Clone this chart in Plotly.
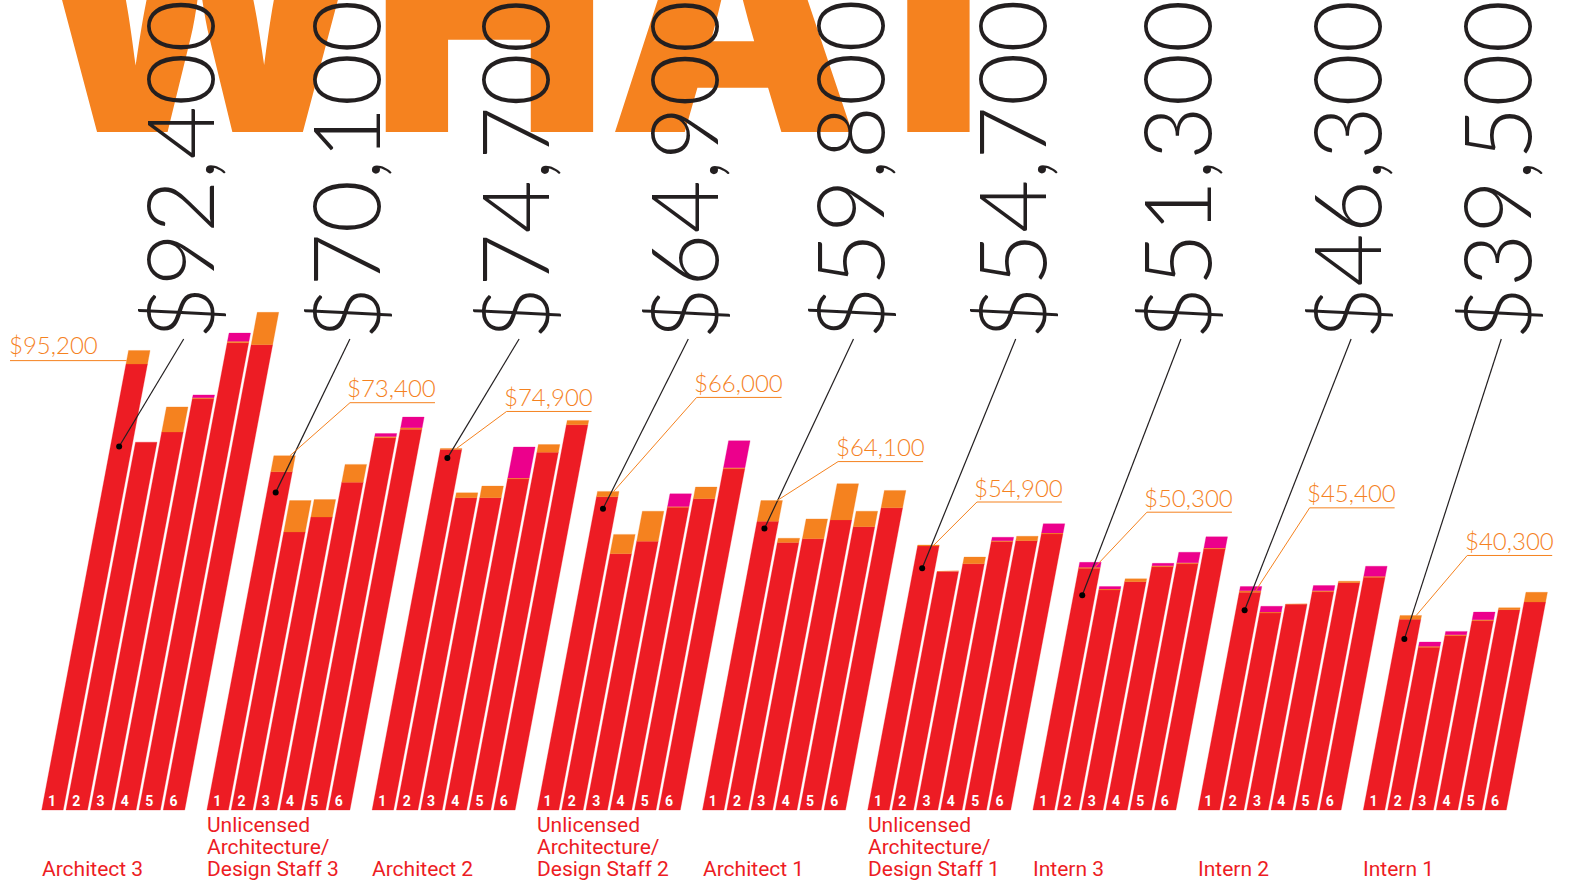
import plotly.graph_objects as go

# ---- data (salaries in $ thousands) ----
label_lines = [
    ["Architect 3"],
    ["Unlicensed", "Architecture/", "Design Staff 3"],
    ["Architect 2"],
    ["Unlicensed", "Architecture/", "Design Staff 2"],
    ["Architect 1"],
    ["Unlicensed", "Architecture/", "Design Staff 1"],
    ["Intern 3"],
    ["Intern 2"],
    ["Intern 1"],
]
regions = ["1", "2", "3", "4", "5", "6"]
national_avg = ["$92,400", "$70,100", "$74,700", "$64,900", "$59,800",
                "$54,700", "$51,300", "$46,300", "$39,500"]
region1_total = ["$95,200", "$73,400", "$74,900", "$66,000", "$64,100",
                 "$54,900", "$50,300", "$45,400", "$40,300"]
region1_total_k = [95.2, 73.4, 74.9, 66.0, 64.1, 54.9, 50.3, 45.4, 40.3]

base_salary = [
    [92.4, 76.2, 78.3, 85.2, 96.8, 96.4],
    [70.1, 57.6, 60.7, 67.9, 77.1, 78.9],
    [74.7, 64.7, 64.7, 68.6, 74.1, 79.8],
    [64.9, 53.1, 55.7, 62.7, 64.5, 70.7],
    [59.8, 55.4, 56.2, 60.1, 58.7, 62.6],
    [54.7, 49.4, 51.0, 55.6, 55.8, 57.2],
    [50.1, 45.6, 47.3, 50.4, 51.0, 54.1],
    [45.1, 40.8, 42.6, 45.2, 47.1, 48.2],
    [39.5, 33.7, 36.1, 39.2, 41.5, 43.1],
]
bonus = [
    [2.8, 0.0, 5.2, 0.2, 0.3, 6.7],
    [3.3, 6.5, 3.6, 3.7, 0.3, 0.3],
    [0.2, 1.0, 2.4, 0.2, 1.6, 0.9],
    [1.1, 4.0, 6.2, 0.2, 2.4, 0.2],
    [4.3, 0.9, 4.1, 7.5, 3.2, 3.6],
    [0.2, 0.15, 1.4, 0.2, 0.9, 0.2],
    [0.2, 0.2, 0.6, 0.2, 0.2, 0.2],
    [0.3, 0.2, 0.1, 0.2, 0.3, 0.2],
    [0.8, 0.2, 0.2, 0.2, 0.4, 2.0],
]
other_comp = [
    [0.0, 0.0, 0.0, 0.6, 1.7, 0.0],
    [0.0, 0.0, 0.0, 0.0, 0.6, 2.2],
    [0.0, 0.0, 0.0, 6.4, 0.0, 0.0],
    [0.0, 0.0, 0.0, 2.6, 0.0, 5.6],
    [0.0, 0.0, 0.0, 0.0, 0.0, 0.0],
    [0.0, 0.0, 0.0, 0.7, 0.0, 1.9],
    [1.0, 0.5, 0.0, 0.5, 2.2, 2.3],
    [0.9, 1.2, 0.0, 1.1, 0.0, 2.1],
    [0.0, 0.9, 0.7, 1.6, 0.0, 0.0],
]
marker_level = [75.3, 65.8, 72.9, 62.4, 58.3, 50.1, 44.5, 41.4, 35.4]

# ---- layout constants ----
W, H = 1572, 882
PX_PER_K = 4.827          # vertical pixels per $1k
BASE_PX = 810             # pixel row of $0
SKEW = 0.189 * PX_PER_K   # horizontal lean per $1k
GROUP_X0, GROUP_STEP, BAR_STEP, BAR_W = 41.7, 165.2, 24.3, 21.5

RED, ORANGE, MAGENTA, INK = "#ED1C24", "#F5821F", "#EC008C", "#231F20"

# big-number column offsets from group start, callout offsets (px)
num_dx = [136, 137, 141, 145, 145, 142, 142, 147, 132]
call_dx = [0, 60, 50, 83, 61, 43, 52, 54, 51]
call_dy = [0, 53, 37, 94, 39, 43, 55, 83, 60]


def yk(p):
    return (BASE_PX - p) / PX_PER_K


def bar_left(g, b):
    return GROUP_X0 + g * GROUP_STEP + b * BAR_STEP


fig = go.Figure()


def add_layer(values, below, color):
    xs, ys = [], []
    for g in range(len(values)):
        for b in range(6):
            lo = sum(layer[g][b] for layer in below)
            hi = lo + values[g][b]
            if hi <= lo:
                continue
            L = bar_left(g, b)
            xs += [L + SKEW * lo, L + BAR_W + SKEW * lo, L + BAR_W + SKEW * hi,
                   L + SKEW * hi, L + SKEW * lo, None]
            ys += [lo, lo, hi, hi, lo, None]
    fig.add_trace(go.Scatter(x=xs, y=ys, mode="lines", fill="toself",
                             fillcolor=color, line=dict(color=color, width=0.3),
                             hoverinfo="skip"))


add_layer(base_salary, [], RED)
add_layer(bonus, [base_salary], ORANGE)
add_layer(other_comp, [base_salary, bonus], MAGENTA)

# region numbers at the foot of each bar
nx, ny, nt = [], [], []
for g in range(9):
    for b in range(6):
        v = yk(802)
        nx.append(bar_left(g, b) + BAR_W / 2 + SKEW * v - 2)
        ny.append(v)
        nt.append(regions[b])
fig.add_trace(go.Scatter(x=nx, y=ny, mode="text", text=nt,
                         textfont=dict(family="Roboto", size=14, color="white", weight="bold"),
                         hoverinfo="skip"))

annotations = []

# huge headline word, cut off at the top
annotations.append(dict(text="WHAT", x=27, y=yk(210), xanchor="left", yanchor="bottom",
                        showarrow=False,
                        font=dict(family="Inter", size=316, color=ORANGE, weight=900)))

# national averages (rotated) with leader lines to dots
lx, ly, dx_, dy_ = [], [], [], []
for g in range(9):
    cx = GROUP_X0 + g * GROUP_STEP + num_dx[g]
    annotations.append(dict(text=national_avg[g], x=cx, y=yk(342), xanchor="center",
                            yanchor="bottom", textangle=-90, showarrow=False,
                            font=dict(family="Lato", size=92, color=INK, weight=300)))
    v = marker_level[g]
    px = bar_left(g, 0) + BAR_W / 2 + SKEW * v - 2
    lx += [cx + 6, px, None]
    ly += [yk(339), v, None]
    dx_.append(px)
    dy_.append(v)
fig.add_trace(go.Scatter(x=lx, y=ly, mode="lines", line=dict(color=INK, width=1.2),
                         hoverinfo="skip"))
fig.add_trace(go.Scatter(x=dx_, y=dy_, mode="markers", marker=dict(color="black", size=6),
                         hoverinfo="skip"))

# region-1 total callouts
cx_, cy_ = [], []
for g in range(9):
    tot = region1_total_k[g]
    if g == 0:
        v = tot - 2.1
        ex = bar_left(g, 0) + SKEW * v
        cx_ += [ex, 10, None]
        cy_ += [v, v, None]
        annotations.append(dict(text=region1_total[g], x=7, y=yk(BASE_PX - v * PX_PER_K - 16),
                                xanchor="left", yanchor="middle", showarrow=False,
                                font=dict(family="Lato", size=24, color=ORANGE, weight=300)))
        continue
    ex = bar_left(g, 0) + BAR_W * 0.75 + SKEW * tot
    ux = ex + call_dx[g]
    uy = tot + call_dy[g] / PX_PER_K
    cx_ += [ex, ux, ux + 85, None]
    cy_ += [tot, uy, uy, None]
    annotations.append(dict(text=region1_total[g], x=ux + 42, y=uy + 15 / PX_PER_K,
                            xanchor="center", yanchor="middle", showarrow=False,
                            font=dict(family="Lato", size=24, color=ORANGE, weight=300)))
fig.add_trace(go.Scatter(x=cx_, y=cy_, mode="lines", line=dict(color=ORANGE, width=1),
                         hoverinfo="skip"))

# position labels under each group
for g in range(9):
    lines = label_lines[g]
    n = len(lines)
    for i, t in enumerate(lines):
        base = 876 - 21.7 * (n - 1 - i)
        annotations.append(dict(text=t, x=GROUP_X0 + g * GROUP_STEP - 2, y=yk(base - 7.2),
                                xanchor="left", yanchor="middle", showarrow=False,
                                font=dict(family="Roboto", size=21, color=RED)))

fig.update_layout(
    width=W, height=H,
    margin=dict(l=0, r=0, t=0, b=0),
    paper_bgcolor="white", plot_bgcolor="white",
    showlegend=False,
    xaxis=dict(range=[0, W], visible=False, fixedrange=True),
    yaxis=dict(range=[yk(H), yk(0)], visible=False, fixedrange=True),
    annotations=annotations,
)

# drop the browser's default page margin so the figure fills the window
fig.write_html("out.html", config={"displayModeBar": False},
               post_script="document.body.style.margin='0';")
